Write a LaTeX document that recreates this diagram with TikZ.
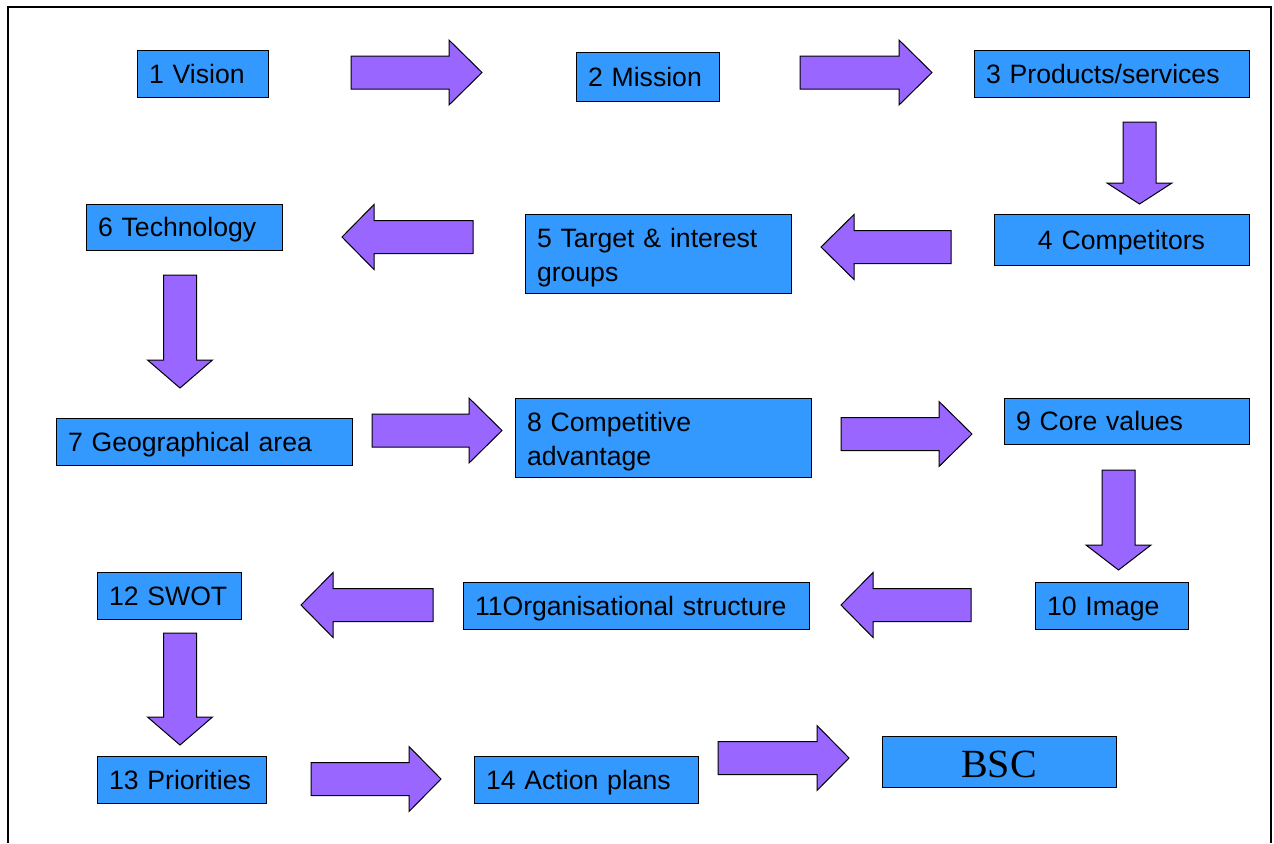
\documentclass[tikz,border=0pt]{standalone}
\usepackage{fontspec}
\setmainfont{Liberation Sans}
\newfontfamily\bscfont{Liberation Serif}
\definecolor{boxblue}{HTML}{3399FF}
\definecolor{arrowpurple}{HTML}{9966FF}
% block arrows: tail, head base, tip, centre line
\newcommand{\hblock}[4]{\path[blockarrow](#1,#4-16.5)--(#2,#4-16.5)--(#2,#4-32.5)--(#3,#4)--(#2,#4+32.5)--(#2,#4+16.5)--(#1,#4+16.5)--cycle;}
\newcommand{\vblock}[4]{\path[blockarrow](#1-16.5,#2)--(#1-16.5,#3)--(#1-32.5,#3)--(#1,#4)--(#1+32.5,#3)--(#1+16.5,#3)--(#1+16.5,#2)--cycle;}
\begin{document}
\begin{tikzpicture}[x=0.5pt,y=-0.5pt]
\tikzstyle{box}=[draw,fill=boxblue,line width=0.5pt,inner xsep=6pt,inner ysep=0pt,align=left,text height=13pt,text depth=3.5pt,font=\fontsize{13.3}{17}\selectfont]
\tikzstyle{twoline}=[text depth=19pt,minimum height=39.5pt]
\tikzstyle{blockarrow}=[draw,fill=arrowpurple,line width=0.5pt]
\useasboundingbox(0,0)rectangle(1274,843);
\path[draw,line width=1pt](8,843)--(8,7)--(1271,7)--(1271,843);
% row 1
\node[box,text width=53.5pt,minimum height=23.5pt](vision)at(202.5,73.5){1 Vision};
\node[box,text width=59.5pt,minimum height=24.5pt](mission)at(647.5,76.5){2 Mission};
\node[box,text width=125.5pt,minimum height=23.5pt](products)at(1111.5,73.5){3 Products/services};
% row 2
\node[box,text width=115.5pt,minimum height=25.5pt,align=center](competitors)at(1121.5,239.5){4 Competitors};
\node[box,twoline,text width=121pt](target)at(658,253.5){5 Target \& interest\\groups};
\node[box,text width=86pt,minimum height=23pt](technology)at(184,227){6 Technology};
% row 3
\node[box,text width=136pt,minimum height=23.5pt](geo)at(204,441.5){7 Geographical area};
\node[box,twoline,text width=136pt](advantage)at(663,437.5){8 Competitive\\advantage};
\node[box,text width=110.5pt,minimum height=23pt](values)at(1126.5,421){9 Core values};
% row 4
\node[box,text width=64.5pt,minimum height=23.5pt](image)at(1111.5,605.5){10 Image};
\node[box,text width=161pt,minimum height=23.5pt](organisation)at(636,605.5){11Organisational structure};
\node[box,text width=60pt,minimum height=23.5pt](swot)at(169,595.5){12 SWOT};
% row 5
\node[box,text width=72.5pt,minimum height=23.5pt](priorities)at(181.5,779.5){13 Priorities};
\node[box,text width=100pt,minimum height=23.5pt](actions)at(586,779.5){14 Action plans};
\node[box,text width=105pt,minimum height=25.5pt,align=center,text height=18pt,text depth=2.5pt,font=\bscfont\fontsize{20}{24}\selectfont](bsc)at(999,761.5){BSC};
% arrows
\hblock{351}{449}{482}{72.5}
\hblock{800}{899}{932}{72.5}
\vblock{1139.5}{122}{183}{204}
\hblock{951}{854}{821}{247}
\hblock{473}{374}{342}{237}
\vblock{180}{275}{360}{388}
\hblock{372}{469}{502}{430.5}
\hblock{841}{939}{972}{434}
\vblock{1118.5}{470}{545}{570}
\hblock{971}{873}{841}{605}
\hblock{433}{333}{301}{605}
\vblock{180}{633}{717}{745}
\hblock{311}{409}{441}{779}
\hblock{718}{817}{849}{758}
\end{tikzpicture}
\end{document}
